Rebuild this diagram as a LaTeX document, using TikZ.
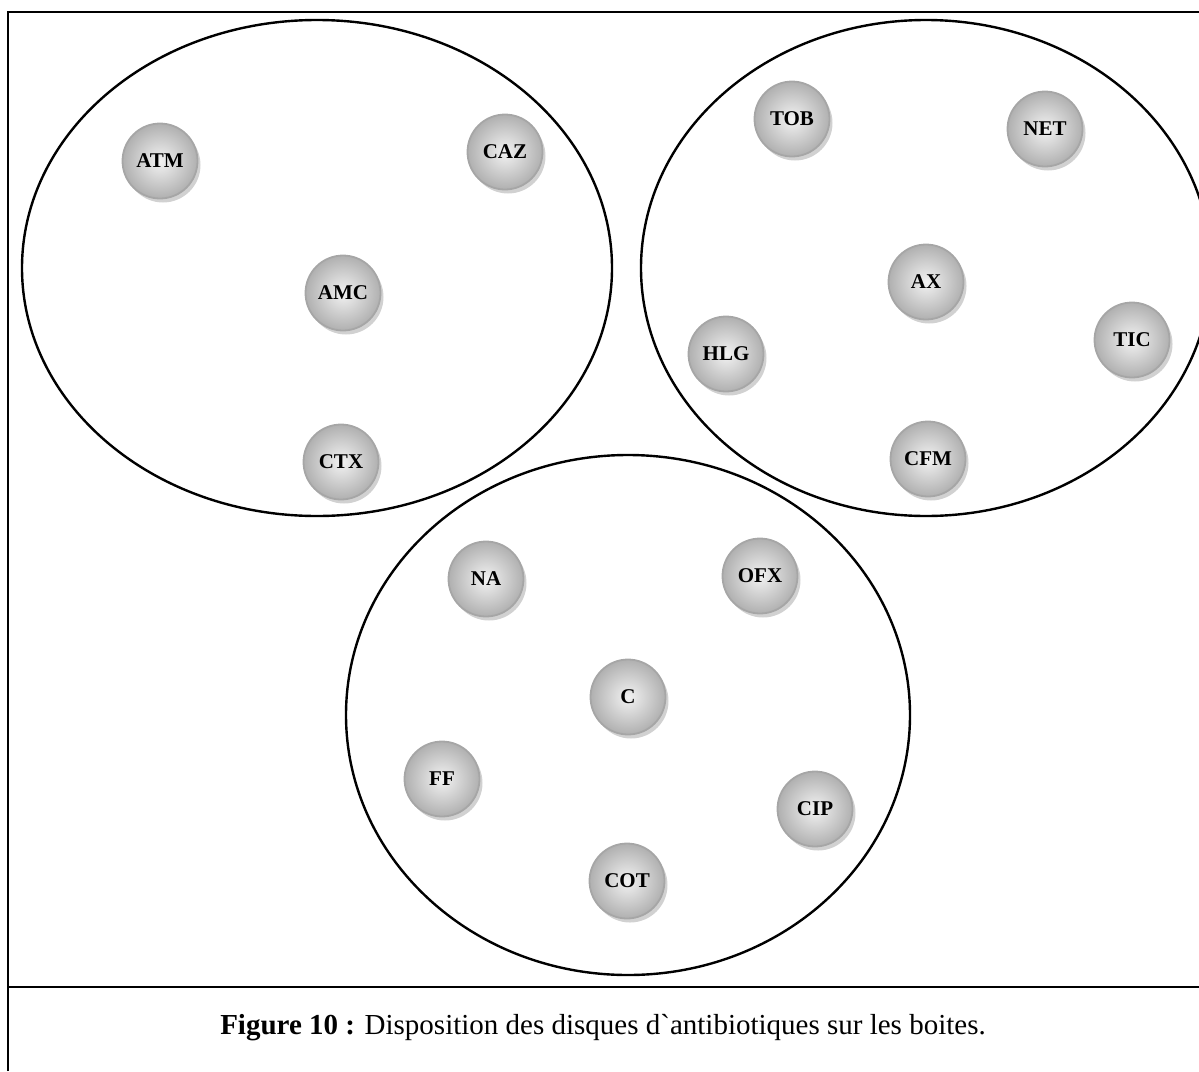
\documentclass[tikz,border=0pt]{standalone}
\usepackage{fontspec}
\setmainfont{Liberation Serif}
\newfontfamily\legende{Liberation Serif}
\usetikzlibrary{shadows}

\begin{document}
\begin{tikzpicture}[x=1pt, y=-1pt,
    disc/.style={circle, minimum size=75pt, inner sep=0pt, draw=gray!70, line width=1.8pt,
        inner color=gray!10, outer color=gray!62,
        drop shadow={shadow xshift=3pt, shadow yshift=-4pt, fill=gray!45, opacity=0.8},
        font=\fontsize{21}{21}\selectfont\bfseries},
    boite/.style={line width=2.4pt}]
    \clip (0,0) rectangle (1199,1071);
    % cadre
    \draw[line width=2pt] (8,1071) -- (8,12) -- (1210,12);
    \draw[line width=2pt] (8,987) -- (1210,987);
    % boites
    \coordinate (B1) at (317,268);
    \coordinate (B2) at (926,268);
    \coordinate (B3) at (628,715);
    \draw[boite] (B1) ellipse [x radius=295, y radius=248];
    \draw[boite] (B2) ellipse [x radius=285, y radius=248];
    \draw[boite] (B3) ellipse [x radius=282, y radius=260];
    % disques, boite 1
    \node[disc] (ATM) at (160,161) {ATM};
    \node[disc] (CAZ) at (505,152) {CAZ};
    \node[disc] (AMC) at (343,293) {AMC};
    \node[disc] (CTX) at (341,462) {CTX};
    % disques, boite 2
    \node[disc] (TOB) at (792,119) {TOB};
    \node[disc] (NET) at (1045,129) {NET};
    \node[disc] (AX)  at (926,282) {AX};
    \node[disc] (HLG) at (726,354) {HLG};
    \node[disc] (TIC) at (1132,340) {TIC};
    \node[disc] (CFM) at (928,459) {CFM};
    % disques, boite 3
    \node[disc] (NA)  at (486,579) {NA};
    \node[disc] (OFX) at (760,576) {OFX};
    \node[disc] (C)   at (628,697) {C};
    \node[disc] (FF)  at (442,779) {FF};
    \node[disc] (CIP) at (815,809) {CIP};
    \node[disc] (COT) at (627,881) {COT};
    % legende
    \node[font=\legende\fontsize{29}{29}\selectfont] (titre) at (603,1028)
        {\textbf{Figure 10 :} Disposition des disques d`antibiotiques sur les boites.};
\end{tikzpicture}
\end{document}
